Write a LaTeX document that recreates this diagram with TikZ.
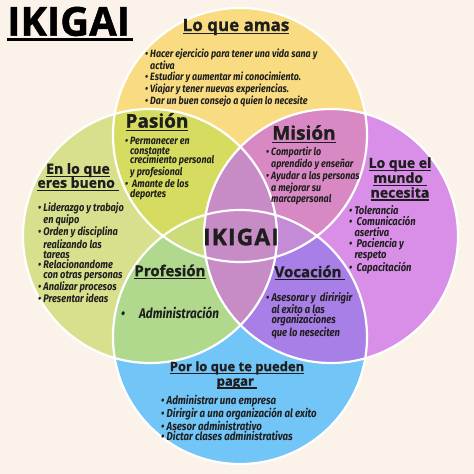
\documentclass[tikz,border=0pt]{standalone}
\usepackage{fontspec}
\setmainfont{Open Sans}[BoldFeatures={FakeBold=1.2}]
\newfontfamily\itemfont{Fira Sans}[FakeStretch=0.84]
\usetikzlibrary{positioning}
\definecolor{fondo}{HTML}{FBF3EA}
\definecolor{amarillo}{HTML}{F9DC82}
\definecolor{lima}{HTML}{D8E08D}
\definecolor{orquidea}{HTML}{D98FE7}
\definecolor{celeste}{HTML}{72C5F7}
\definecolor{pasioncol}{HTML}{D5DC5F}
\definecolor{misioncol}{HTML}{D889C4}
\definecolor{profcol}{HTML}{B0D98E}
\definecolor{vocacol}{HTML}{A87FE6}
\definecolor{centrocol}{HTML}{C78BC6}
\definecolor{lenteizq}{HTML}{CCDC78}
\definecolor{lenteder}{HTML}{C48BD6}
\definecolor{tinta}{HTML}{1E1E1E}
\newcommand{\subr}[1]{\setbox0\hbox{#1}\leavevmode\rlap{\rule[-3.1pt]{\wd0}{1.3pt}}\box0}
\newcommand{\subrt}[1]{\setbox0\hbox{#1}\leavevmode\rlap{\rule[-5.5pt]{\wd0}{3pt}}\box0}
\newcommand{\sig}{\phantom{•\ }}
\def\radio{127pt}

\begin{document}
\begin{tikzpicture}[x=1pt,y=-1pt]
  \tikzstyle{titulo}=[font=\bfseries\fontsize{16}{14}\selectfont, align=center,
                      inner sep=0pt, text=tinta]
  \tikzstyle{lista}=[font=\itemfont\bfseries\itshape\fontsize{10.6}{9.7}\selectfont,
                     align=left, anchor=north west, inner sep=0pt, text=tinta]
  \tikzstyle{borde}=[draw=white, line width=2.2pt]

  \fill[fondo] (0,0) rectangle (474,474);
  \useasboundingbox (0,0) rectangle (474,474);

  \coordinate (camas)  at (240,135);
  \coordinate (cbueno) at (150,236);
  \coordinate (cmundo) at (331,236);
  \coordinate (cpagar) at (240,337);

  % circulos y cruces
  \fill[amarillo] (camas) circle (\radio);
  \fill[lima] (cbueno) circle (\radio);
  \fill[orquidea] (cmundo) circle (\radio);
  \fill[celeste] (cpagar) circle (\radio);
  \begin{scope}
    \clip (camas) circle (\radio);
    \fill[pasioncol] (cbueno) circle (\radio);
    \fill[misioncol] (cmundo) circle (\radio);
  \end{scope}
  \begin{scope}
    \clip (cpagar) circle (\radio);
    \fill[profcol] (cbueno) circle (\radio);
    \fill[vocacol] (cmundo) circle (\radio);
  \end{scope}
  \begin{scope}
    \clip (camas) circle (\radio);
    \clip (cpagar) circle (\radio);
    \fill[lenteizq] (cbueno) circle (\radio);
    \fill[lenteder] (cmundo) circle (\radio);
  \end{scope}
  \begin{scope}
    \clip (cbueno) circle (\radio);
    \fill[centrocol] (cmundo) circle (\radio);
  \end{scope}
  \foreach \c in {camas,cbueno,cmundo,cpagar}
    \draw[borde] (\c) circle (\radio);

  % titulo
  \node[font=\bfseries\fontsize{40}{40}\selectfont, anchor=west, inner sep=0pt, text=black]
    (ikigai) at (7,24) {\subrt{IKIGAI\kern3pt}};

  % encabezados
  \node[titulo, font=\bfseries\fontsize{17}{14}\selectfont] (amas) at (236,27) {\subr{Lo que amas}};
  \node[titulo, font=\bfseries\fontsize{19}{14}\selectfont] (pasion) at (157,122) {\subr{Pasión}};
  \node[titulo, font=\bfseries\fontsize{19}{14}\selectfont] (mision) at (304,134) {\subr{Misión}};
  \node[titulo, font=\bfseries\fontsize{14}{14}\selectfont] (bueno) at (78,177)
    {\subr{En lo que}\\\subr{eres bueno\ }};
  \node[titulo, font=\bfseries\fontsize{14}{13.5}\selectfont] (mundo) at (400,179)
    {\subr{Lo que el}\\\subr{mundo\ }\\\subr{necesita}};
  \node[titulo, font=\bfseries\fontsize{15}{14}\selectfont] (profesion) at (170,272) {\subr{Profesión}};
  \node[titulo, font=\bfseries\fontsize{15}{14}\selectfont] (vocacion) at (310,273) {\subr{Vocación\ }};
  \node[titulo, font=\bfseries\fontsize{13}{14.5}\selectfont] (pagar) at (237,375)
    {\subr{Por lo que te pueden}\\\subr{pagar\ }};
  \node[titulo, font=\bfseries\fontsize{23}{23}\selectfont] (centro) at (241,237)
    {I\kern1pt K\kern1pt I\kern1pt G\kern1pt A\kern1pt I};

  % listas
  \node[lista, font=\itemfont\bfseries\itshape\fontsize{10.6}{10.5}\selectfont] (lamas) at (145,49)
    {• Hacer ejercicio para tener una vida sana y\\\sig activa\\• Estudiar y aumentar mi conocimiento.\\
     • Viajar y tener nuevas experiencias.\\• Dar un buen consejo a quien lo necesite};
  \node[lista] (lpasion) at (125,137)
    {• Permanecer en\\\sig constante\\\sig crecimiento personal\\\sig y profesional\\
     •\ \ Amante de los\\\sig deportes};
  \node[lista] (lmision) at (266,147)
    {• Compartir lo\\\sig aprendido y enseñar\\• Ayudar a las personas\\\sig a mejorar su\\\sig marcapersonal};
  \node[lista, font=\itemfont\bfseries\itshape\fontsize{11}{10}\selectfont] (lbueno) at (38,202)
    {• Liderazgo y trabajo\\\sig en quipo\\• Orden y disciplina\\\sig realizando las\\\sig tareas\\
     • Relacionandome\\\sig con otras personas\\• Analizar procesos\\• Presentar ideas};
  \node[lista, font=\itemfont\bfseries\itshape\fontsize{11.2}{11}\selectfont] (lmundo) at (349,205)
    {• Tolerancia\\•\ \ Comunicación\\\sig asertiva\\•\ \ Paciencia y\\\sig respeto\\•\ \ Capacitación};
  \node[lista, font=\itemfont\bfseries\itshape\fontsize{14}{14}\selectfont, anchor=west] (lprofesion)
    at (121,313) {•\quad Administración};
  \node[lista, font=\itemfont\bfseries\itshape\fontsize{11.2}{10}\selectfont] (lvocacion) at (266,292)
    {• Asesorar y\ \ diririgir\\\sig al exito a las\\\sig organizaciones\\\sig que lo neseciten};
  \node[lista, font=\itemfont\bfseries\itshape\fontsize{11.5}{10}\selectfont] (lpagar) at (161,395)
    {• Administrar una empresa\\• Dirirgir a una organización al exito\\• Asesor administrativo\\
     • Dictar clases administrativas};
\end{tikzpicture}
\end{document}
